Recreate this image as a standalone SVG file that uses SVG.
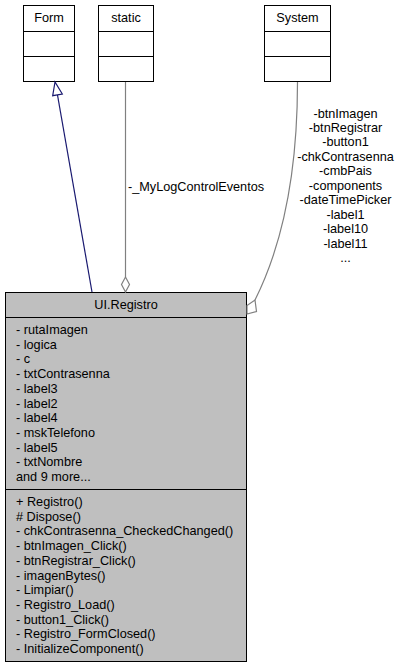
<svg xmlns="http://www.w3.org/2000/svg" width="401" height="668" viewBox="0 0 401 668">
<style>
text{font-family:"Liberation Sans",Arial,sans-serif;font-size:12.7px;fill:#000}
.box{fill:#fff;stroke:#000;stroke-width:1}
.main{fill:#bfbfbf;stroke:#000;stroke-width:1}
.div{stroke:#000;stroke-width:1.2}
.c{text-anchor:middle}
.gray{fill:none;stroke:#808080;stroke-width:1.2}
</style>
<rect width="401" height="668" fill="#fff"/>
<g id="Form">
<rect class="box" x="23.5" y="5.5" width="51" height="76"/>
<line class="div" x1="23.5" y1="31.5" x2="74.5" y2="31.5"/>
<line class="div" x1="23.5" y1="56.5" x2="74.5" y2="56.5"/>
<text class="c" x="49" y="22">Form</text>
</g>
<g id="static">
<rect class="box" x="98.5" y="5.5" width="55" height="76"/>
<line class="div" x1="98.5" y1="31.5" x2="153.5" y2="31.5"/>
<line class="div" x1="98.5" y1="56.5" x2="153.5" y2="56.5"/>
<text class="c" x="126" y="22">static</text>
</g>
<g id="System">
<rect class="box" x="264.5" y="5.5" width="66" height="76"/>
<line class="div" x1="264.5" y1="31.5" x2="330.5" y2="31.5"/>
<line class="div" x1="264.5" y1="56.5" x2="330.5" y2="56.5"/>
<text class="c" x="297.5" y="22">System</text>
</g>
<g id="UI.Registro">
<rect class="main" x="5.5" y="292.5" width="241" height="369"/>
<line class="div" x1="5.5" y1="317.5" x2="246.5" y2="317.5"/>
<line class="div" x1="5.5" y1="489.5" x2="246.5" y2="489.5"/>
<text class="c" x="126" y="309">UI.Registro</text>
<text x="16" y="334">- rutaImagen</text>
<text x="16" y="348.7">- logica</text>
<text x="16" y="363.4">- c</text>
<text x="16" y="378.1">- txtContrasenna</text>
<text x="16" y="392.8">- label3</text>
<text x="16" y="407.5">- label2</text>
<text x="16" y="422.2">- label4</text>
<text x="16" y="436.9">- mskTelefono</text>
<text x="16" y="451.6">- label5</text>
<text x="16" y="466.3">- txtNombre</text>
<text x="16" y="481">and 9 more...</text>
<text x="16" y="506">+ Registro()</text>
<text x="16" y="520.7"># Dispose()</text>
<text x="16" y="535.4">- chkContrasenna_CheckedChanged()</text>
<text x="16" y="550.1">- btnImagen_Click()</text>
<text x="16" y="564.8">- btnRegistrar_Click()</text>
<text x="16" y="579.5">- imagenBytes()</text>
<text x="16" y="594.2">- Limpiar()</text>
<text x="16" y="608.9">- Registro_Load()</text>
<text x="16" y="623.6">- button1_Click()</text>
<text x="16" y="638.3">- Registro_FormClosed()</text>
<text x="16" y="653">- InitializeComponent()</text>
</g>
<g id="connectors">
<line x1="92" y1="292" x2="57.5" y2="95" stroke="#191970" stroke-width="1.2"/>
<polygon points="55,82 52.7,95.7 62.3,94" fill="#fff" stroke="#191970" stroke-width="1.2"/>
<line class="gray" x1="125.5" y1="82" x2="125.5" y2="277"/>
<polygon points="125.5,277 129.5,284.5 125.5,292 121.5,284.5" fill="#fff" stroke="#808080" stroke-width="1.2"/>
<text x="128" y="191">-_MyLogControlEventos</text>
<path class="gray" d="M297.5,82 C297.5,180 280,250 255,300"/>
<polygon points="247,314 247,305.5 255,300 256.5,311.5" fill="#fff" stroke="#808080" stroke-width="1.2"/>
<text class="c" x="345.5" y="117.5">-btnImagen</text>
<text class="c" x="345.5" y="132">-btnRegistrar</text>
<text class="c" x="345.5" y="146.4">-button1</text>
<text class="c" x="345.5" y="160.9">-chkContrasenna</text>
<text class="c" x="345.5" y="175.3">-cmbPais</text>
<text class="c" x="345.5" y="189.7">-components</text>
<text class="c" x="345.5" y="204.2">-dateTimePicker</text>
<text class="c" x="345.5" y="218.6">-label1</text>
<text class="c" x="345.5" y="233.1">-label10</text>
<text class="c" x="345.5" y="247.5">-label11</text>
<text class="c" x="345.5" y="262">...</text>
</g>
</svg>
